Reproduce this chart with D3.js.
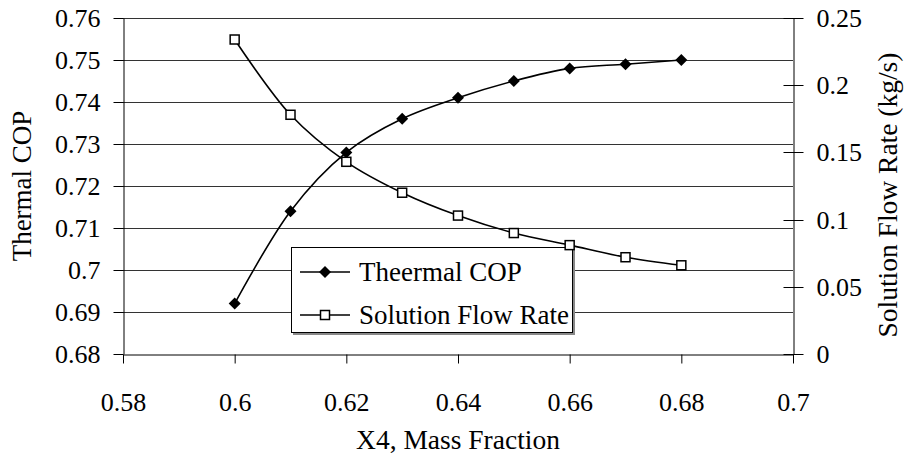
<!DOCTYPE html>
<html><head><meta charset="utf-8">
<script src="https://cdn.jsdelivr.net/npm/d3@7"></script>
<style>body{margin:0;background:#fff}svg{display:block}</style>
</head><body>
<script>
const massFraction = [0.60, 0.61, 0.62, 0.63, 0.64, 0.65, 0.66, 0.67, 0.68];
const thermalCOP   = [0.692, 0.714, 0.728, 0.736, 0.741, 0.745, 0.748, 0.749, 0.750];
const flowRate     = [0.234, 0.178, 0.143, 0.120, 0.103, 0.090, 0.081, 0.072, 0.066];
const xTicks = [0.58, 0.60, 0.62, 0.64, 0.66, 0.68, 0.70];
const xTickLabels = ["0.58", "0.6", "0.62", "0.64", "0.66", "0.68", "0.7"];
const leftTicks = [0.68, 0.69, 0.70, 0.71, 0.72, 0.73, 0.74, 0.75, 0.76];
const leftTickLabels = ["0.68", "0.69", "0.7", "0.71", "0.72", "0.73", "0.74", "0.75", "0.76"];
const rightTicks = [0, 0.05, 0.10, 0.15, 0.20, 0.25];
const rightTickLabels = ["0", "0.05", "0.1", "0.15", "0.2", "0.25"];
const seriesNames = ["Theermal COP", "Solution Flow Rate"];

const W = 904, H = 455;
const L = 123, R = 793, T = 18, B = 354;
const FS = 26, FT = 27.5, FL = 27;
const FONT = "'Liberation Serif'";

const svg = d3.select("body").append("svg").attr("width", W).attr("height", H);
const x = d3.scaleLinear().domain([0.58, 0.70]).range([L, R]);
const yL = d3.scaleLinear().domain([0.68, 0.76]).range([B, T]);
const yR = d3.scaleLinear().domain([0, 0.25]).range([B, T]);

svg.append("g").selectAll("line").data(leftTicks.slice(1)).join("line")
  .attr("x1", L).attr("x2", R).attr("y1", d => Math.round(yL(d)) + 0.5).attr("y2", d => Math.round(yL(d)) + 0.5)
  .attr("stroke", "#333").attr("stroke-width", 1);

const gl = svg.append("g").attr("transform", `translate(${L + 0.5},0)`)
  .call(d3.axisLeft(yL).tickValues(leftTicks).tickFormat((d, i) => leftTickLabels[i]).tickSize(10).tickPadding(13).tickSizeOuter(0));
const gr = svg.append("g").attr("transform", `translate(${R + 0.5},0)`)
  .call(d3.axisRight(yR).tickValues(rightTicks).tickFormat((d, i) => rightTickLabels[i]).tickSize(10).tickPadding(13).tickSizeOuter(0));
gr.selectAll(".tick line").attr("x1", -10);
const gb = svg.append("g").attr("transform", `translate(0,${B + 0.5})`)
  .call(d3.axisBottom(x).tickValues(xTicks).tickFormat((d, i) => xTickLabels[i]).tickSize(9).tickPadding(29).tickSizeOuter(0));
[gl, gr, gb].forEach(g => {
  g.attr("font-family", null).attr("font-size", null);
  g.select(".domain").attr("stroke", "#000");
  g.selectAll(".tick line").attr("stroke", "#000");
  g.selectAll("text").style("font-size", FS + "px").style("font-family", FONT).attr("fill", "#000");
});
gl.selectAll(".tick").attr("transform", d => `translate(0,${Math.round(yL(d)) + 0.5})`);
gr.selectAll(".tick").attr("transform", d => `translate(0,${Math.round(yR(d)) + 0.5})`);

function label(t, fs) { return t.style("font-size", fs + "px").style("font-family", FONT).attr("fill", "#000"); }
label(svg.append("text").attr("x", 458).attr("y", 449).attr("text-anchor", "middle"), FT).text("X4, Mass Fraction");
label(svg.append("text").attr("transform", `translate(31,186) rotate(-90)`).attr("text-anchor", "middle"), 27).text("Thermal COP");
label(svg.append("text").attr("transform", `translate(897,195) rotate(-90)`).attr("text-anchor", "middle"), FT).text("Solution Flow Rate (kg/s)");

const curve = d3.curveCatmullRom.alpha(0.5);
const cop = massFraction.map((m, i) => [m, thermalCOP[i]]);
const flow = massFraction.map((m, i) => [m, flowRate[i]]);

svg.append("path").datum(cop).attr("fill", "none").attr("stroke", "#000").attr("stroke-width", 1.6)
  .attr("d", d3.line().x(d => x(d[0])).y(d => yL(d[1])).curve(curve));
svg.append("g").selectAll("path").data(cop).join("path")
  .attr("transform", d => `translate(${x(d[0])},${yL(d[1])})`)
  .attr("d", "M0,-6L6,0L0,6L-6,0Z").attr("fill", "#000");

const lg = svg.append("g");
lg.append("rect").attr("x", 293).attr("y", 249).attr("width", 282).attr("height", 86).attr("fill", "#888");
lg.append("rect").attr("x", 291.5).attr("y", 247.5).attr("width", 281).attr("height", 85).attr("fill", "#fff").attr("stroke", "#000");
const rows = [272, 315];
rows.forEach((ry, i) => {
  lg.append("line").attr("x1", 300).attr("x2", 350).attr("y1", ry).attr("y2", ry).attr("stroke", "#000").attr("stroke-width", 1.6);
  if (i === 0) lg.append("path").attr("transform", `translate(325,${ry})`).attr("d", "M0,-6L6,0L0,6L-6,0Z").attr("fill", "#000");
  else lg.append("rect").attr("x", 320.5).attr("y", ry - 4.5).attr("width", 9).attr("height", 9).attr("fill", "#fff").attr("stroke", "#000").attr("stroke-width", 1.5);
  label(lg.append("text").attr("x", 359).attr("y", ry).attr("dy", "0.35em"), FL).text(seriesNames[i]);
});

svg.append("path").datum(flow).attr("fill", "none").attr("stroke", "#000").attr("stroke-width", 1.6)
  .attr("d", d3.line().x(d => x(d[0])).y(d => yR(d[1])).curve(curve));
svg.append("g").selectAll("rect").data(flow).join("rect")
  .attr("x", d => x(d[0]) - 4.5).attr("y", d => yR(d[1]) - 4.5).attr("width", 9).attr("height", 9)
  .attr("fill", "#fff").attr("stroke", "#000").attr("stroke-width", 1.5);
</script>
</body></html>
